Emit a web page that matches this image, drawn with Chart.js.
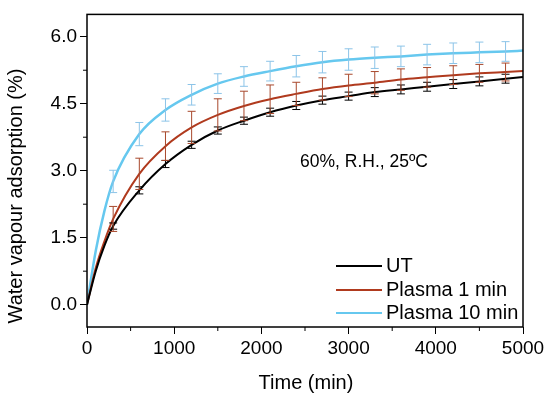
<!DOCTYPE html>
<html>
<head>
<meta charset="utf-8">
<script src="https://cdn.jsdelivr.net/npm/chart.js@4.4.1/dist/chart.umd.min.js"></script>
<style>
  html, body { margin: 0; padding: 0; background: #fff; }
  #wrap { width: 550px; height: 398px; }
</style>
</head>
<body>
<div id="wrap"><canvas id="chart"></canvas></div>
<script>
// time points (min)
const timeMin  = [0, 100, 200, 300, 600, 900, 1200, 1500, 1800, 2100, 2400, 2700, 3000, 3300, 3600, 3900, 4200, 4500, 4800, 5000];
const ut       = [0, 0.75, 1.32, 1.76, 2.56, 3.15, 3.58, 3.90, 4.12, 4.31, 4.46, 4.58, 4.67, 4.76, 4.82, 4.88, 4.94, 5.00, 5.06, 5.10];
const plasma1  = [0, 0.82, 1.42, 1.92, 2.93, 3.55, 3.97, 4.25, 4.45, 4.60, 4.72, 4.83, 4.91, 4.97, 5.04, 5.09, 5.14, 5.18, 5.21, 5.23];
const plasma10 = [0, 1.20, 2.10, 2.76, 3.82, 4.36, 4.70, 4.95, 5.11, 5.23, 5.34, 5.43, 5.49, 5.53, 5.56, 5.60, 5.63, 5.65, 5.67, 5.69];

// error bars (half height) at the measured times
const errTime = [300, 600, 900, 1200, 1500, 1800, 2100, 2400, 2700, 3000, 3300, 3600, 3900, 4200, 4500, 4800];
const utErr   = [0.07, 0.08, 0.08, 0.08, 0.08, 0.08, 0.09, 0.09, 0.09, 0.09, 0.10, 0.10, 0.10, 0.10, 0.10, 0.10];
const p1Err   = [0.28, 0.35, 0.32, 0.36, 0.36, 0.33, 0.32, 0.26, 0.25, 0.25, 0.25, 0.24, 0.22, 0.21, 0.20, 0.20];
const p10Err  = [0.25, 0.26, 0.25, 0.23, 0.22, 0.22, 0.22, 0.24, 0.24, 0.24, 0.24, 0.23, 0.23, 0.23, 0.23, 0.22];

const labels = ['UT', 'Plasma 1 min', 'Plasma 10 min'];
const yTicks = [0, 1.5, 3.0, 4.5, 6.0];
const yMinor = [0.75, 2.25, 3.75, 5.25];
const xMinor = [500, 1500, 2500, 3500, 4500];

const FONT = 'Liberation Sans, Arial, sans-serif';
const colors = ['#000000', '#b03a1e', '#66c8ef'];
const barColors = ['#000000', '#a8482c', '#8cc4e8'];

const series = [ut, plasma1, plasma10];
const errs = [utErr, p1Err, p10Err];

function toXY(arr) {
    return timeMin.map((t, i) => ({ x: t, y: arr[i] }));
}

const extras = {
    id: 'extras',
    afterDatasetsDraw(chart) {
        const c = chart.ctx;
        const xs = chart.scales.x, ys = chart.scales.y;
        // error bars
        c.save();
        c.lineWidth = 1;
        for (let s = 0; s < 3; s++) {
            c.strokeStyle = barColors[s];
            errTime.forEach((t, i) => {
                const v = series[s][timeMin.indexOf(t)];
                const px = xs.getPixelForValue(t);
                const top = ys.getPixelForValue(v + errs[s][i]);
                const bot = ys.getPixelForValue(v - errs[s][i]);
                c.beginPath();
                c.moveTo(px, top); c.lineTo(px, bot);
                c.moveTo(px - 4, top); c.lineTo(px + 4, top);
                c.moveTo(px - 4, bot); c.lineTo(px + 4, bot);
                c.stroke();
            });
        }
        c.restore();
    },
    afterDraw(chart) {
        const c = chart.ctx;
        const a = chart.chartArea;
        const xs = chart.scales.x, ys = chart.scales.y;
        c.save();
        // frame
        c.strokeStyle = '#000';
        c.lineWidth = 1.5;
        c.strokeRect(a.left, a.top, a.right - a.left, a.bottom - a.top);
        // minor ticks
        c.lineWidth = 1;
        c.beginPath();
        xMinor.forEach(v => {
            const px = xs.getPixelForValue(v);
            c.moveTo(px, a.bottom); c.lineTo(px, a.bottom + 4);
        });
        yMinor.forEach(v => {
            const py = ys.getPixelForValue(v);
            c.moveTo(a.left, py); c.lineTo(a.left - 4, py);
        });
        c.stroke();

        c.fillStyle = '#000';
        // axis titles
        c.font = '20px ' + FONT;
        c.textAlign = 'center';
        c.textBaseline = 'middle';
        c.fillText('Time (min)', 306, 383);
        c.save();
        c.translate(16, 196);
        c.rotate(-Math.PI / 2);
        c.font = '20px ' + FONT;
        c.fillText('Water vapour adsorption (%)', 0, 0);
        c.restore();

        // annotation
        c.font = '17.5px ' + FONT;
        c.textAlign = 'left';
        c.fillText('60%, R.H., 25ºC', 300, 162);

        // legend
        c.font = '20px ' + FONT;
        const rows = [266, 290, 313];
        labels.forEach((lab, i) => {
            c.strokeStyle = colors[i];
            c.lineWidth = 2;
            c.beginPath();
            c.moveTo(336, rows[i]); c.lineTo(382, rows[i]);
            c.stroke();
            c.fillText(lab, 386, rows[i]);
        });
        c.restore();
    }
};

new Chart(document.getElementById('chart'), {
    type: 'line',
    data: {
        datasets: series.map((arr, i) => ({
            label: labels[i],
            data: toXY(arr),
            borderColor: colors[i],
            borderWidth: i === 2 ? 2.5 : 2,
            pointRadius: 0,
            fill: false,
            cubicInterpolationMode: 'monotone'
        }))
    },
    options: {
        responsive: true,
        maintainAspectRatio: false,
        animation: false,
        layout: { padding: { top: 7, right: 27, left: 0, bottom: 0 } },
        plugins: { legend: { display: false }, tooltip: { enabled: false } },
        scales: {
            x: {
                type: 'linear',
                min: 0, max: 5000,
                ticks: { stepSize: 1000, color: '#000', padding: 3, maxRotation: 0, font: { size: 19, family: FONT }, callback: v => String(v) },
                grid: { drawOnChartArea: false, tickLength: 7, color: '#000', tickColor: '#000' },
                border: { display: false },
                afterFit: a => { a.height = 71; }
            },
            y: {
                min: -0.5, max: 6.5,
                afterBuildTicks: a => { a.ticks = yTicks.map(v => ({ value: v })); },
                ticks: { color: '#000', padding: 3, font: { size: 19, family: FONT }, callback: v => v.toFixed(1) },
                grid: { drawOnChartArea: false, tickLength: 7, color: '#000', tickColor: '#000' },
                border: { display: false },
                afterFit: a => { a.width = 87; }
            }
        }
    },
    plugins: [extras]
});
</script>
</body>
</html>
